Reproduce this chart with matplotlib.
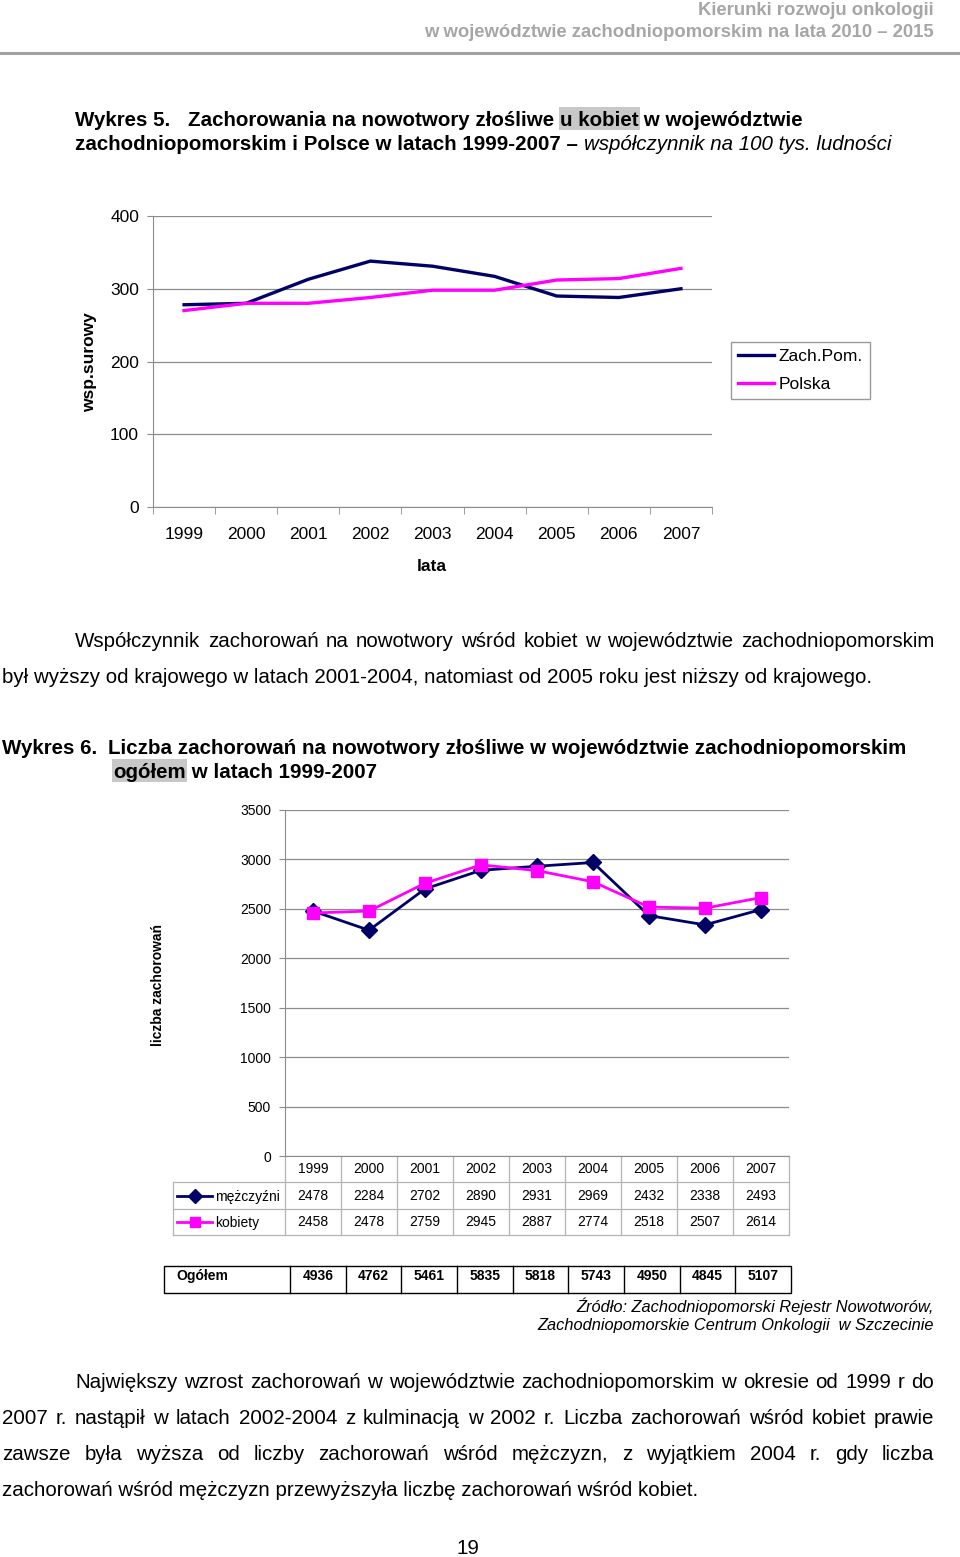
import numpy as np
import matplotlib.pyplot as plt
from matplotlib.patches import Rectangle
from matplotlib.transforms import blended_transform_factory

plt.rcParams['font.family'] = ['Liberation Sans', 'DejaVu Sans']

# ---- data ---------------------------------------------------------------
years = ['1999', '2000', '2001', '2002', '2003', '2004', '2005', '2006', '2007']
zach_pom = [278, 280, 313, 338, 331, 317, 290, 288, 300]
polska = [270, 280, 280, 288, 298, 298, 312, 314, 328]
men = [2478, 2284, 2702, 2890, 2931, 2969, 2432, 2338, 2493]
women = [2458, 2478, 2759, 2945, 2887, 2774, 2518, 2507, 2614]
total = [4936, 4762, 5461, 5835, 5818, 5743, 4950, 4845, 5107]

NAVY = '#000066'
PINK = '#ff00ff'
GRID = '#8c8c8c'
HL = '#c8c8c8'

W, H = 960, 1557
fig = plt.figure(figsize=(W / 100, H / 100), dpi=100)

# page layer in pixel coordinates (y down)
page = fig.add_axes([0, 0, 1, 1])
page.set_xlim(0, W)
page.set_ylim(H, 0)
page.axis('off')
page.patch.set_visible(False)
rend = fig.canvas.get_renderer()


def width(s, **kw):
    t = page.text(0, 0, s + '|', **kw)
    w1 = t.get_window_extent(rend).width
    t.set_text('|')
    w2 = t.get_window_extent(rend).width
    t.remove()
    return w1 - w2


def runs(x, y, parts, size):
    # parts: (text, weight, style, highlight)
    for s, wt, st, hl in parts:
        w = width(s, fontsize=size, fontweight=wt, fontstyle=st)
        if hl:
            page.add_patch(Rectangle((x - 1, y - 11), w + 2, 23, color=HL, lw=0, zorder=0))
        page.text(x, y, s, fontsize=size, fontweight=wt, fontstyle=st,
                  va='center_baseline', zorder=2)
        x += w
    return x


def justify(x0, x1, y, line, size):
    words = line.split()
    ws = [width(w, fontsize=size) for w in words]
    gap = (x1 - x0 - sum(ws)) / (len(words) - 1)
    x = x0
    for w, wd in zip(words, ws):
        page.text(x, y, w, fontsize=size, va='center_baseline')
        x += wd + gap


def px_axes(l, t, r, b):
    return fig.add_axes([l / W, 1 - b / H, (r - l) / W, (b - t) / H])


BODY = 14.8
TITLE = 14.8

# ---- header ---------------------------------------------------------------
page.text(934, 8, 'Kierunki rozwoju onkologii', fontsize=13.3, fontweight='bold',
          color='#a6a6a6', ha='right', va='center_baseline')
page.text(934, 30, 'w województwie zachodniopomorskim na lata 2010 – 2015', fontsize=13.3,
          fontweight='bold', color='#a6a6a6', ha='right', va='center_baseline')
page.plot([0, 960], [53, 53], color='#a0a0a0', lw=2.2)

# ---- title 5 --------------------------------------------------------------
page.text(75, 118, 'Wykres 5.', fontsize=TITLE, fontweight='bold', va='center_baseline')
runs(188, 118, [('Zachorowania na nowotwory złośliwe ', 'bold', 'normal', False),
                ('u kobiet', 'bold', 'normal', True),
                (' w województwie', 'bold', 'normal', False)], TITLE)
runs(75, 142, [('zachodniopomorskim i Polsce w latach 1999-2007 – ', 'bold', 'normal', False),
               ('współczynnik na 100 tys. ludności', 'normal', 'italic', False)], TITLE)

# ---- chart 1 --------------------------------------------------------------
x = np.arange(len(years))
ax1 = px_axes(153, 216, 712, 507)
ax1.plot(x, zach_pom, color=NAVY, lw=2.4, label='Zach.Pom.')
ax1.plot(x, polska, color=PINK, lw=2.4, label='Polska')
ax1.set_xlim(-0.5, 8.5)
ax1.set_ylim(0, 400)
ax1.set_yticks(range(0, 401, 100))
ax1.yaxis.grid(True, color=GRID, lw=0.9)
ax1.set_axisbelow(True)
ax1.set_xticks(x)
ax1.set_xticklabels(years)
ax1.set_xticks(np.arange(-0.5, 9, 1), minor=True)
ax1.tick_params(axis='x', which='major', length=0, pad=14.5, labelsize=12.5)
ax1.tick_params(axis='x', which='minor', length=5, color=GRID)
ax1.tick_params(axis='y', length=4, color=GRID, pad=6, labelsize=12.5)
for s in ['top', 'right']:
    ax1.spines[s].set_visible(False)
ax1.spines['left'].set_color(GRID)
ax1.spines['bottom'].set_color(GRID)
page.text(90, 362, 'wsp.surowy', fontsize=12.5, fontweight='bold', rotation=90,
          ha='center', va='center')
page.text(432, 566, 'lata', fontsize=12.5, fontweight='bold', ha='center', va='center')
fig.legend(loc='upper left', bbox_to_anchor=(731 / W, 1 - 342 / H), fontsize=12.5,
           frameon=True, fancybox=False, edgecolor='#9a9a9a', framealpha=1,
           handlelength=2.1, handletextpad=0.25, borderpad=0.4, labelspacing=0.75,
           borderaxespad=0)

# ---- paragraph 1 ------------------------------------------------------------
justify(75, 934, 639, 'Współczynnik zachorowań na nowotwory wśród kobiet w województwie '
        'zachodniopomorskim', BODY)
page.text(2, 675, 'był wyższy od krajowego w latach 2001-2004, natomiast od 2005 roku jest '
          'niższy od krajowego.', fontsize=BODY, va='center_baseline')

# ---- title 6 --------------------------------------------------------------
page.text(2, 746, 'Wykres 6.', fontsize=TITLE, fontweight='bold', va='center_baseline')
page.text(108, 746, 'Liczba zachorowań na nowotwory złośliwe w województwie zachodniopomorskim',
          fontsize=TITLE, fontweight='bold', va='center_baseline')
runs(113, 770, [('ogółem', 'bold', 'normal', True),
                (' w latach 1999-2007', 'bold', 'normal', False)], TITLE)

# ---- chart 2 --------------------------------------------------------------
ax2 = px_axes(285, 810, 789, 1156)
ax2.plot(x, men, color=NAVY, lw=2, marker='D', ms=8, label='mężczyźni')
ax2.plot(x, women, color=PINK, lw=2, marker='s', ms=8.5, label='kobiety')
ax2.set_xlim(-0.5, 8.5)
ax2.set_ylim(0, 3500)
ax2.set_yticks(range(0, 3501, 500))
ax2.yaxis.grid(True, color=GRID, lw=0.9)
ax2.set_axisbelow(True)
ax2.set_xticks([])
ax2.tick_params(axis='y', length=4, color=GRID, pad=6, labelsize=10)
for s in ['top', 'right']:
    ax2.spines[s].set_visible(False)
ax2.spines['left'].set_color(GRID)
ax2.spines['bottom'].set_color(GRID)
page.text(158, 985, 'liczba zachorowań', fontsize=10, fontweight='bold', rotation=90,
          ha='center', va='center')

# data table under chart 2
tb = blended_transform_factory(ax2.transData, page.transData)
TGRID = '#b4b4b4'
for k in range(10):
    page.plot([k - 0.5, k - 0.5], [1156, 1235], color=TGRID, lw=0.9, transform=tb)
page.plot([173, 173], [1182, 1235], color=TGRID, lw=0.9)
for yy in [1182, 1209, 1235]:
    page.plot([173, 789], [yy, yy], color=TGRID, lw=0.9)
for i in range(len(years)):
    page.text(i, 1169, years[i], fontsize=10, ha='center', va='center', transform=tb)
    page.text(i, 1196, str(men[i]), fontsize=10, ha='center', va='center', transform=tb)
    page.text(i, 1222, str(women[i]), fontsize=10, ha='center', va='center', transform=tb)
page.plot([177, 212], [1196, 1196], color=NAVY, lw=2)
page.plot([195], [1196], color=NAVY, marker='D', ms=7)
page.plot([177, 212], [1222, 1222], color=PINK, lw=2)
page.plot([195], [1222], color=PINK, marker='s', ms=7.5)
page.text(215, 1197, 'mężczyźni', fontsize=10, va='center')
page.text(215, 1223, 'kobiety', fontsize=10, va='center')

# total table
page.add_patch(Rectangle((164, 1266), 627, 27, fill=False, ec='black', lw=1))
cw = (791 - 290) / 9
for k in range(9):
    xx = 290 + cw * k
    page.plot([xx, xx], [1266, 1293], color='black', lw=1)
    page.text(xx + cw / 2, 1276, str(total[k]), fontsize=10, fontweight='bold',
              ha='center', va='center')
page.text(176, 1276, 'Ogółem', fontsize=10, fontweight='bold', va='center')

page.text(934, 1305, 'Źródło: Zachodniopomorski Rejestr Nowotworów,', fontsize=11.8,
          fontstyle='italic', ha='right', va='center_baseline')
page.text(934, 1324, 'Zachodniopomorskie Centrum Onkologii  w Szczecinie', fontsize=11.8,
          fontstyle='italic', ha='right', va='center_baseline')

# ---- paragraph 2 ------------------------------------------------------------
justify(75, 934, 1381, 'Największy wzrost zachorowań w województwie zachodniopomorskim '
        'w okresie od 1999 r do', BODY)
justify(2, 934, 1417, '2007 r. nastąpił w latach 2002-2004 z kulminacją w 2002 r. Liczba '
        'zachorowań wśród kobiet prawie', BODY)
justify(2, 934, 1452, 'zawsze była wyższa od liczby zachorowań wśród mężczyzn, z wyjątkiem '
        '2004 r. gdy liczba', BODY)
page.text(2, 1488, 'zachorowań wśród mężczyzn przewyższyła liczbę zachorowań wśród kobiet.',
          fontsize=BODY, va='center_baseline')

page.text(468, 1546, '19', fontsize=BODY, ha='center', va='center_baseline')

fig.savefig('out.png', dpi=100)
